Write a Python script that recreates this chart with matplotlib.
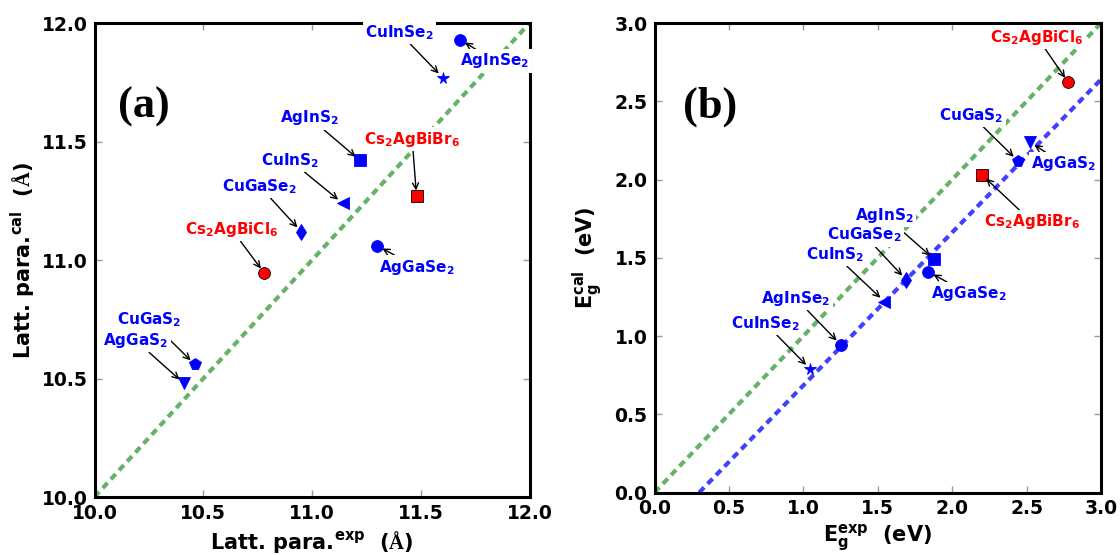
import matplotlib
matplotlib.use('Agg')
import matplotlib.pyplot as plt

# 字体设置：正文粗体无衬线，数学文本中 \mathbf 用粗体无衬线，\mathrm 用衬线（用于 Å）
matplotlib.rcParams['font.family'] = 'DejaVu Sans'
matplotlib.rcParams['font.weight'] = 'bold'
matplotlib.rcParams['mathtext.fontset'] = 'custom'
matplotlib.rcParams['mathtext.rm'] = 'Liberation Serif'
matplotlib.rcParams['mathtext.bf'] = 'DejaVu Sans:bold'
matplotlib.rcParams['mathtext.it'] = 'DejaVu Sans:italic'
matplotlib.rcParams['mathtext.sf'] = 'DejaVu Sans'

# (a) 晶格常数：实验值 vs 计算值
latt_names = ['CuInSe$_\\mathbf{2}$', 'AgInSe$_\\mathbf{2}$', 'AgInS$_\\mathbf{2}$',
              'Cs$_\\mathbf{2}$AgBiBr$_\\mathbf{6}$', 'CuInS$_\\mathbf{2}$', 'CuGaSe$_\\mathbf{2}$',
              'Cs$_\\mathbf{2}$AgBiCl$_\\mathbf{6}$', 'AgGaSe$_\\mathbf{2}$', 'CuGaS$_\\mathbf{2}$',
              'AgGaS$_\\mathbf{2}$']
latt_exp = [11.60, 11.68, 11.22, 11.48, 11.14, 10.95, 10.78, 11.30, 10.46, 10.41]
latt_cal = [11.77, 11.93, 11.42, 11.27, 11.24, 11.12, 10.945, 11.06, 10.56, 10.48]
latt_markers = ['*', 'o', 's', 's', '<', 'd', 'o', 'o', 'p', 'v']
latt_colors = ['blue', 'blue', 'blue', 'red', 'blue', 'blue', 'red', 'blue', 'blue', 'blue']
latt_text_x = [11.40, 11.84, 10.99, 11.46, 10.90, 10.76, 10.63, 11.48, 10.25, 10.19]
latt_text_y = [11.96, 11.84, 11.60, 11.51, 11.42, 11.31, 11.13, 10.97, 10.75, 10.66]

# (b) 带隙：实验值 vs 计算值
gap_names = ['Cs$_\\mathbf{2}$AgBiCl$_\\mathbf{6}$', 'AgGaS$_\\mathbf{2}$', 'CuGaS$_\\mathbf{2}$',
             'Cs$_\\mathbf{2}$AgBiBr$_\\mathbf{6}$', 'AgInS$_\\mathbf{2}$', 'AgGaSe$_\\mathbf{2}$',
             'CuGaSe$_\\mathbf{2}$', 'CuInS$_\\mathbf{2}$', 'AgInSe$_\\mathbf{2}$', 'CuInSe$_\\mathbf{2}$']
gap_exp = [2.78, 2.52, 2.44, 2.20, 1.88, 1.84, 1.69, 1.545, 1.25, 1.045]
gap_cal = [2.62, 2.24, 2.12, 2.03, 1.49, 1.41, 1.36, 1.22, 0.945, 0.79]
gap_markers = ['o', 'v', 'p', 's', 's', 'o', 'd', '<', 'o', '*']
gap_colors = ['red', 'blue', 'blue', 'red', 'blue', 'blue', 'blue', 'blue', 'blue', 'blue']
gap_text_x = [2.57, 2.75, 2.13, 2.535, 1.545, 2.11, 1.41, 1.21, 0.95, 0.745]
gap_text_y = [2.91, 2.10, 2.41, 1.73, 1.77, 1.27, 1.645, 1.52, 1.24, 1.08]

# 参考线
diag_a = [10.0, 12.0]
diag_b = [0.0, 3.0]
shift_x = [0.30, 3.0]
shift_y = [0.0, 2.64]


def style_axes(ax):
    for sp in ax.spines.values():
        sp.set_linewidth(2.2)
    ax.tick_params(direction='in', top=True, right=True, length=5, width=1,
                   color='#999999', labelsize=13.5, pad=5)
    for lab in ax.get_xticklabels() + ax.get_yticklabels():
        lab.set_fontweight('bold')


def draw_points(ax, xs, ys, markers, colors, names, tx, ty):
    for x, y, m, c, n, a, b in zip(xs, ys, markers, colors, names, tx, ty):
        ms = 8.5
        ec = 'black' if c == 'red' else c
        ax.plot(x, y, marker=m, color=c, markersize=ms, markeredgecolor=ec,
                markeredgewidth=0.6, linestyle='none', zorder=4)
        ax.annotate(n, xy=(x, y), xytext=(a, b), ha='center', va='center',
                    color=c, fontsize=11, fontweight='bold', annotation_clip=False,
                    bbox=dict(boxstyle='square,pad=0.15', fc='white', ec='none'),
                    arrowprops=dict(arrowstyle='->', color='black', lw=1,
                                    shrinkA=0, shrinkB=4),
                    zorder=5)


fig = plt.figure(figsize=(11.2, 5.55), dpi=100)
ax1 = fig.add_axes([0.0844, 0.1045, 0.3885, 0.854])
ax2 = fig.add_axes([0.5844, 0.1126, 0.3987, 0.8459])

# (a)
ax1.plot(diag_a, diag_a, color='g', alpha=0.6, lw=3, dashes=(1.7, 1.2), zorder=2)
draw_points(ax1, latt_exp, latt_cal, latt_markers, latt_colors, latt_names,
            latt_text_x, latt_text_y)
ax1.set_xlim(10.0, 12.0)
ax1.set_ylim(10.0, 12.0)
ax1.set_xticks([10.0, 10.5, 11.0, 11.5, 12.0])
ax1.set_yticks([10.0, 10.5, 11.0, 11.5, 12.0])
style_axes(ax1)
ax1.set_xlabel('Latt. para.$^\\mathbf{exp}$  ($\\mathrm{Å}$)', fontsize=15,
               fontweight='bold', labelpad=4)
ax1.set_ylabel('Latt. para.$^\\mathbf{cal}$  ($\\mathrm{Å}$)', fontsize=15,
               fontweight='bold', labelpad=3)
ax1.text(0.114, 0.823, '(a)', transform=ax1.transAxes, ha='center', va='center',
         fontsize=32, fontweight='bold', family='Liberation Serif')

# (b)
ax2.plot(diag_b, diag_b, color='g', alpha=0.6, lw=3, dashes=(1.7, 1.2), zorder=2)
ax2.plot(shift_x, shift_y, color='b', alpha=0.75, lw=3, dashes=(1.7, 1.2), zorder=2)
draw_points(ax2, gap_exp, gap_cal, gap_markers, gap_colors, gap_names,
            gap_text_x, gap_text_y)
ax2.set_xlim(0.0, 3.0)
ax2.set_ylim(0.0, 3.0)
ax2.set_xticks([0.0, 0.5, 1.0, 1.5, 2.0, 2.5, 3.0])
ax2.set_yticks([0.0, 0.5, 1.0, 1.5, 2.0, 2.5, 3.0])
style_axes(ax2)
ax2.set_xlabel('$\\mathbf{E}_\\mathbf{g}^\\mathbf{exp}$  (eV)', fontsize=15,
               fontweight='bold', labelpad=3)
ax2.set_ylabel('$\\mathbf{E}_\\mathbf{g}^\\mathbf{cal}$  (eV)', fontsize=15,
               fontweight='bold', labelpad=7)
ax2.text(0.124, 0.821, '(b)', transform=ax2.transAxes, ha='center', va='center',
         fontsize=32, fontweight='bold', family='Liberation Serif')

fig.savefig('out.png', dpi=100)
